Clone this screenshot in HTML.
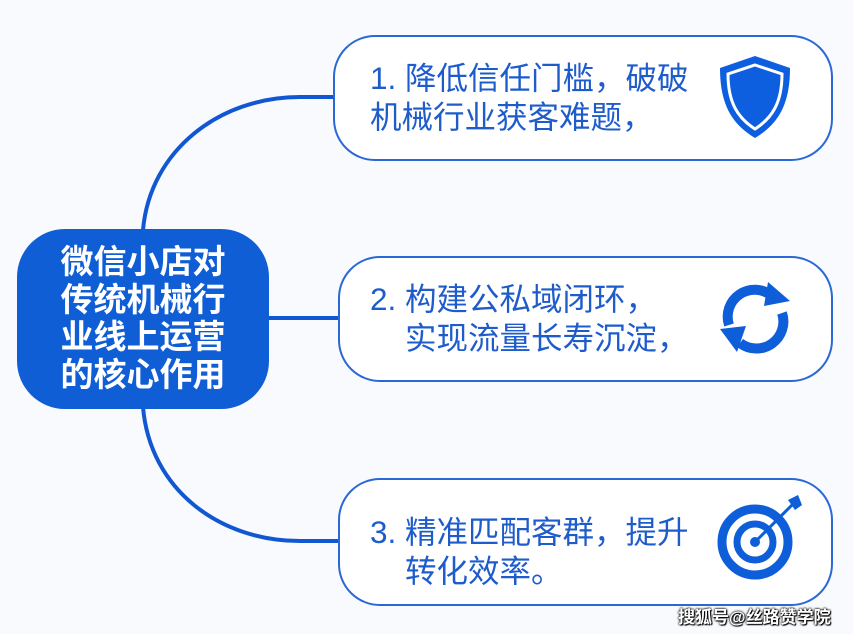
<!DOCTYPE html>
<html><head><meta charset="utf-8"><style>
body{margin:0;width:853px;height:634px;background:#f8fafd;position:relative;overflow:hidden;font-family:"Liberation Sans","Noto Sans CJK SC",sans-serif}
.card{position:absolute;border:2px solid #2a68d8;border-radius:42px;background:#fff;box-sizing:border-box}
.t{position:absolute;color:#1e5ccc;font-size:31.5px;line-height:39px;white-space:nowrap}
#center{position:absolute;left:17px;top:229px;width:252px;height:180px;background:#0f5ed6;border-radius:48px;color:#fff;font-weight:bold;font-size:33px;line-height:37.5px;text-align:center;box-sizing:border-box;padding-top:14px}
</style></head><body>
<svg width="853" height="634" style="position:absolute;left:0;top:0">
<g fill="none" stroke="#1257d2" stroke-width="4">
<path d="M143,230 C150,150 220,97 300,97 L336,97"/>
<path d="M143,407 C150,490 220,541 300,541 L340,541"/>
<path d="M268,318 L340,318"/>
</g>
</svg>
<div id="center">微信小店对<br>传统机械行<br>业线上运营<br>的核心作用</div>
<div class="card" style="left:333px;top:35px;width:500px;height:126px"></div>
<div class="card" style="left:338px;top:256px;width:495px;height:126px"></div>
<div class="card" style="left:338px;top:478px;width:495px;height:128px"></div>
<div class="t" style="left:370px;top:59px">1. 降低信任门槛，破破<br>机械行业获客难题，</div>
<div class="t" style="left:370px;top:280px">2. 构建公私域闭环，<br>&nbsp;&nbsp;&nbsp;&nbsp;实现流量长寿沉淀，</div>
<div class="t" style="left:370px;top:513px">3. 精准匹配客群，提升<br>&nbsp;&nbsp;&nbsp;&nbsp;转化效率。</div>
<svg width="853" height="634" style="position:absolute;left:0;top:0">
<path d="M755,56 L790,68 C790,105 778,124 755,138 C732,124 720,105 720,68 Z" fill="#0d5fe0"/>
<path d="M755,65 L782,74 C782,103 772,118 755,129 C738,118 728,103 728,74 Z" fill="none" stroke="#fff" stroke-width="3"/>
<g fill="none" stroke="#0d5ed8" stroke-width="10">
<path d="M729,325 A27,27 0 0 1 772,296"/>
<path d="M782,313 A27,27 0 0 1 740,343"/>
</g>
<polygon points="768,282 790,301 764,306" fill="#0d5ed8"/>
<polygon points="720,329 746,326 737,352" fill="#0d5ed8"/>
<circle cx="755" cy="542" r="33" fill="none" stroke="#0d5ed8" stroke-width="9"/>
<circle cx="755" cy="542" r="18" fill="none" stroke="#0d5ed8" stroke-width="7"/>
<circle cx="755" cy="542" r="5" fill="#0d5ed8"/>
<line x1="757" y1="540" x2="795" y2="502" stroke="#0d5ed8" stroke-width="3"/>
<polygon points="788,500 798,495 802,505 795,510" fill="#0d5ed8"/>
</svg>
<div style="position:absolute;left:678px;top:603px;font-size:17px;color:#fff;font-weight:bold;text-shadow:0 0 2px #000,0 0 2px #000,1px 1px 1px #000">搜狐号@丝路赞学院</div>
</body></html>
